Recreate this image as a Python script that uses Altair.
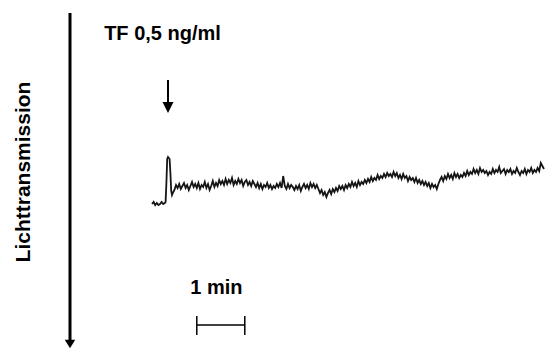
import altair as alt
import pandas as pd

# ---- trace data (time in s relative to TF addition, signal in arbitrary units) ----
pre_t = [-20, -18, -16, -14, -12, -10, -8, -6, -4, -3]
pre_v = [-1, 1, -2, 0, -2, -1, 1, -1, 0, 1]
peak_t = [-2, -1, 0, 1, 2, 3, 4, 5, 6]
peak_v = [20, 44, 46, 45, 44, 30, 12, 8, 10]
main_t = list(range(8, 471, 2))
main_v = [13, 18, 15, 19, 14, 17, 20, 15, 18, 13, 17, 21, 16, 19, 15,
          20, 14, 18, 16, 21, 15, 19, 13, 17, 22, 16, 20, 17, 23, 19,
          22, 18, 24, 19, 23, 20, 25, 18, 22, 19, 24, 20, 23, 17, 21,
          23, 18, 21, 17, 22, 19, 16, 20, 15, 19, 14, 18, 16, 20, 15,
          18, 14, 17, 15, 19, 16, 20, 15, 27, 17, 14, 19, 15, 18, 16,
          13, 17, 14, 18, 12, 16, 19, 15, 18, 14, 20, 16, 19, 15, 18,
          14, 10, 13, 8, 11, 6, 10, 13, 9, 14, 11, 15, 12, 17, 14,
          17, 13, 18, 15, 19, 16, 21, 17, 20, 16, 22, 18, 21, 19, 23,
          20, 24, 21, 26, 22, 25, 23, 28, 24, 27, 25, 29, 26, 30, 27,
          29, 26, 31, 27, 30, 25, 28, 24, 29, 25, 27, 22, 26, 23, 25,
          21, 25, 20, 23, 19, 22, 18, 21, 17, 20, 15, 19, 16, 18, 14,
          19, 23, 26, 22, 27, 24, 29, 25, 28, 24, 30, 26, 29, 25, 28,
          26, 30, 27, 32, 28, 31, 29, 34, 30, 33, 29, 35, 31, 33, 30,
          32, 28, 31, 29, 34, 30, 33, 31, 36, 30, 32, 34, 29, 33, 31,
          34, 29, 32, 30, 35, 31, 28, 32, 30, 34, 29, 33, 31, 35, 30,
          33, 31, 35, 32, 40, 37, 34]

trace = pd.DataFrame({"t": pre_t + peak_t + main_t, "v": pre_v + peak_v + main_v})

# ---- annotation positions (data units) ----
axis_line = pd.DataFrame({"t": [-122.5], "v1": [190], "v2": [-141]})
axis_head = pd.DataFrame({"t": [-122.5], "v": [-141]})
add_line = pd.DataFrame({"t": [0], "v1": [123], "v2": [98]})
add_head = pd.DataFrame({"t": [0], "v": [95.5]})
bar_h = pd.DataFrame({"t1": [36], "t2": [96], "v": [-122]})
bar_ticks = pd.DataFrame({"t": [36, 96], "v1": [-113, -113], "v2": [-132, -132]})
labels = pd.DataFrame({
    "t": [-6.9, 60.6],
    "v": [163, -91],
    "txt": ["TF 0,5 ng/ml", "1 min"],
})
ylabel = pd.DataFrame({"t": [-180], "v": [31], "txt": ["Lichttransmission"]})

xs = alt.Scale(domain=[-200, 472.5], nice=False, zero=False)
ys = alt.Scale(domain=[-145, 195], nice=False, zero=False)

X = lambda f: alt.X(f, type="quantitative", scale=xs, axis=None)
Y = lambda f: alt.Y(f, type="quantitative", scale=ys, axis=None)

line = alt.Chart(trace).mark_line(color="#151515", strokeWidth=1.8).encode(
    x=X("t"), y=Y("v"), order="t:Q")

ax_rule = alt.Chart(axis_line).mark_rule(color="black", strokeWidth=3).encode(
    x=X("t"), y=Y("v1"), y2="v2")
ax_tri = alt.Chart(axis_head).mark_point(
    shape="M -1 -0.8 L 1 -0.8 L 0 0.8 Z", filled=True, size=110, color="black", opacity=1, strokeWidth=0
).encode(x=X("t"), y=Y("v"))

add_rule = alt.Chart(add_line).mark_rule(color="black", strokeWidth=2).encode(
    x=X("t"), y=Y("v1"), y2="v2")
add_tri = alt.Chart(add_head).mark_point(
    shape="M -1 -1 L 1 -1 L 0 1 Z", filled=True, size=121, color="black", opacity=1, strokeWidth=0
).encode(x=X("t"), y=Y("v"))

sb = alt.Chart(bar_h).mark_rule(color="black", strokeWidth=1.5).encode(
    x=X("t1"), x2="t2", y=Y("v"))
sbt = alt.Chart(bar_ticks).mark_rule(color="black", strokeWidth=1.5).encode(
    x=X("t"), y=Y("v1"), y2="v2")

txt = alt.Chart(labels).mark_text(
    font="Liberation Sans", fontWeight="bold", fontSize=20, color="black",
    align="center", baseline="alphabetic"
).encode(x=X("t"), y=Y("v"), text="txt:N")

ytxt = alt.Chart(ylabel).mark_text(
    font="Liberation Sans", fontWeight="bold", fontSize=21, color="black",
    align="center", baseline="middle", angle=270
).encode(x=X("t"), y=Y("v"), text="txt:N")

chart = alt.layer(line, ax_rule, ax_tri, add_rule, add_tri, sb, sbt, txt, ytxt).properties(
    width=538, height=340, padding=0, autosize=alt.AutoSizeParams(type="none"),
    background="white"
).configure_view(stroke=None)

chart.save("out.html", embed_options={"renderer": "svg", "actions": False})
